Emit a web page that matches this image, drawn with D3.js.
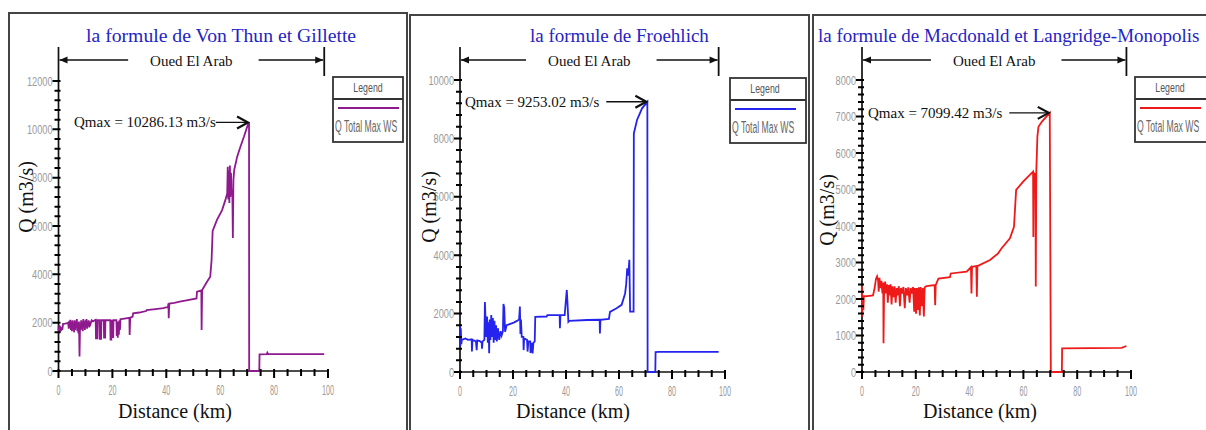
<!DOCTYPE html>
<html>
<head>
<meta charset="utf-8">
<script src="https://cdn.jsdelivr.net/npm/d3@7"></script>
<style>
  html, body { margin: 0; padding: 0; background: #fff; }
  svg { display: block; }
</style>
</head>
<body>
<svg id="chart" width="1206" height="430"></svg>
<script>
// ---- Data: maximum total discharge along Oued El Arab, [distance km, Q m3/s] ----
const formulaTitles = [
  "la formule de Von Thun et Gillette",
  "la formule de Froehlich",
  "la formule de Macdonald et Langridge-Monopolis"
];
const reachName = "Oued El Arab";
const xTitle = "Distance (km)";
const yTitle = "Q (m3/s)";
const legendTitle = "Legend";
const seriesName = "Q Total Max WS";

const xTickValues = [0, 20, 40, 60, 80, 100];
const yTicksVonThun = [0, 2000, 4000, 6000, 8000, 10000, 12000];
const yTicksFroehlich = [0, 2000, 4000, 6000, 8000, 10000];
const yTicksMacdonald = [0, 1000, 2000, 3000, 4000, 5000, 6000, 7000, 8000];

const qmaxVonThun = 10286.13;
const qmaxFroehlich = 9253.02;
const qmaxMacdonald = 7099.42;

const vonThun = [
  [0,1800],[0.15,1550],[0.3,1900],[0.5,1600],[0.7,1850],[0.9,1650],[1.1,1800],[1.4,1700],[1.7,1950],
  [2.5,1960],[3.3,1980],[3.6,2000],[3.8,1750],[4.0,2080],[4.2,1800],[4.4,2120],[4.6,1700],[4.8,2050],
  [5.0,1650],[5.2,2100],[5.4,1750],[5.6,2000],[5.8,1600],[6.0,2100],[6.2,1700],[6.4,2050],[6.6,1800],
  [6.8,2150],[7.0,1650],[7.2,2000],[7.4,1550],[7.6,2050],[7.8,600],[8.0,1950],[8.2,1700],[8.4,2100],
  [8.6,1750],[8.8,2050],[9.0,1650],[9.2,2150],[9.4,1800],[9.6,2050],[9.8,1700],[10.0,2100],[10.2,1850],
  [10.4,2150],[10.6,1750],[10.8,2050],[11.0,1900],[11.2,2100],[11.4,1800],[11.6,2050],[11.9,1950],
  [12.3,2100],[12.8,2050],[13.4,2100],[13.8,2120],[13.9,1350],[14.4,1350],[14.5,2100],[15.2,2100],
  [15.3,1330],[15.8,1330],[15.9,2100],[16.8,2100],[16.9,1380],[17.3,1380],[17.4,2100],[19.2,2100],
  [19.3,1300],[19.6,1300],[19.7,2080],[19.9,2080],[20.0,1400],[20.3,1400],[20.4,2100],[21.5,2100],
  [21.6,1450],[21.8,2000],[22.0,1380],[22.2,2050],[22.4,1500],[22.6,2100],[22.8,1700],[23.0,2150],
  [23.3,2150],[26.3,2200],[26.4,1490],[26.6,2200],[27.5,2250],[27.7,2390],[30,2420],[32.5,2480],
  [32.7,2520],[36,2560],[38.9,2600],[39.5,2620],[40.6,2640],[40.8,2800],[40.9,2180],[41.1,2790],
  [43,2820],[45,2870],[48,2930],[51.2,3000],[51.4,3280],[53.0,3330],[53.1,1700],[53.3,3350],
  [55.1,3690],[56.3,3900],[56.8,4590],[57.2,5800],[58.8,6250],[60.7,6660],[61.9,7070],[62.6,7340],
  [62.8,8450],[63.0,7100],[63.2,8300],[63.4,6950],[63.6,8500],[63.8,7200],[64.0,8200],[64.2,7300],
  [64.5,7500],[64.7,5500],[64.9,7900],[65.2,8320],[66.3,8870],[67.5,9280],[68.8,9690],[70.0,10100],
  [70.7,qmaxVonThun],[70.75,0],[74.5,0],[74.6,690],[77.3,700],[77.5,760],[77.8,700],[98.6,700]
];

const froehlich = [
  [0,1600],[0.1,870],[0.3,1500],[0.5,950],[0.7,1100],[2.0,1150],[3.0,1100],[4.4,1120],[4.5,700],
  [4.7,1100],[6.0,1050],[6.3,750],[6.5,1080],[7.5,1060],[8.2,1000],[8.3,800],[8.5,1050],[9.2,1100],
  [9.4,2400],[9.6,1900],[9.9,1200],[10.2,1900],[10.5,1000],[10.8,1700],[11.0,640],[11.2,1800],
  [11.5,1100],[11.8,1950],[12.1,1200],[12.4,1850],[12.7,1000],[13.0,1750],[13.3,1100],[13.6,1600],
  [13.9,1050],[14.3,1500],[14.8,1100],[15.3,1400],[15.7,1250],[16.2,1400],[16.4,2330],[16.7,2200],
  [17.0,1380],[17.6,1600],[19.0,1650],[20.5,1700],[21.5,1750],[22.3,1800],[22.6,2240],[22.8,1300],
  [23.0,1800],[23.3,1200],[23.9,1200],[24.0,750],[24.2,1150],[25.3,1100],[25.5,700],[25.8,1050],
  [26.5,1050],[26.6,650],[27.0,1000],[27.4,640],[27.7,1000],[28.2,1050],[28.4,1890],[32.7,1900],
  [33.0,1950],[37.6,1950],[37.7,1500],[37.9,1950],[39.5,1950],[40.0,2500],[40.3,2810],[40.6,2300],
  [40.9,1720],[41.2,1750],[48,1780],[52.7,1790],[52.8,1320],[53.0,1790],[56.2,1820],[56.6,2060],
  [59.1,2180],[61,2300],[62.3,2690],[62.7,3000],[63.1,3550],[63.5,3300],[63.9,3840],[64.2,2070],
  [65.5,2070],[65.6,8170],[66.8,8630],[68.7,9030],[70.7,qmaxFroehlich],[70.8,0],[73.7,0],[73.8,680],
  [75,690],[97.6,690]
];

const macdonald = [
  [0,2340],[0.1,1520],[0.3,2100],[0.5,1700],[0.7,2080],[2,2080],[4.1,2100],[4.7,2300],[5.2,2550],
  [5.6,2620],[6.0,2500],[6.2,2200],[6.5,2580],[6.8,2300],[7.2,2500],[7.6,2150],[7.9,2450],[8.0,790],
  [8.2,2100],[8.6,2480],[9.0,2150],[9.3,2400],[9.6,1900],[9.9,2380],[10.3,2100],[10.6,2400],[11.0,1850],
  [11.3,2350],[11.7,2050],[12.1,2350],[12.5,1900],[12.9,2300],[13.3,2100],[13.7,2350],[14.1,1800],
  [14.5,2300],[15.0,2150],[15.4,2330],[15.9,1750],[16.3,2300],[16.8,2100],[17.2,2320],[17.7,1900],
  [18.1,2300],[18.6,2150],[19.0,2330],[19.4,1650],[19.7,2300],[20.1,1600],[20.4,2300],[20.8,1700],
  [21.1,2320],[21.5,1550],[21.8,2330],[22.3,1800],[22.6,2300],[23.0,1520],[23.3,2320],[24.0,2350],
  [27.0,2380],[27.2,1830],[27.4,2380],[28.4,2560],[32.7,2600],[33.0,2700],[38.9,2750],[40.5,2870],
  [40.7,2150],[40.9,2880],[42.5,2900],[42.7,2060],[42.9,2900],[47.6,3070],[50.6,3250],[51.9,3390],
  [55,3660],[56.5,3980],[57.3,4990],[59.9,5215],[63.6,5490],[63.7,3700],[63.9,5450],[64.5,5400],
  [64.6,2340],[64.8,5500],[65.2,6450],[65.6,6720],[66.9,6860],[69.8,qmaxMacdonald],[70.2,0],[74.3,0],
  [74.4,650],[96.5,660],[98.3,712]
];

// ---- Panel settings ----
const panelSpecs = [
  { series: vonThun, qmax: qmaxVonThun, yTicks: yTicksVonThun, yMinor: 400, color: "#8e1a8e",
    frame: { x: 9, y: 13, w: 398 }, plot: { x0: 58.5, x1: 328, y0: 371, y1: 81 },
    titleX: 86, titleSize: 19.7, labelX: 74, legend: { x: 333, y: 77, w: 70, h: 65 },
    qTitle: { x: 33, y: 197 }, dTitleX: 175 },
  { series: froehlich, qmax: qmaxFroehlich, yTicks: yTicksFroehlich, yMinor: 400, color: "#2424ee",
    frame: { x: 410, y: 15, w: 399 }, plot: { x0: 460, x1: 725, y0: 372, y1: 80 },
    titleX: 530, titleSize: 19, labelX: 465, legend: { x: 730, y: 78, w: 76, h: 65 },
    qTitle: { x: 436, y: 207 }, dTitleX: 573 },
  { series: macdonald, qmax: qmaxMacdonald, yTicks: yTicksMacdonald, yMinor: 200, color: "#ee1a1a",
    frame: { x: 813, y: 15, w: 410 }, plot: { x0: 862, x1: 1131, y0: 372, y1: 80 },
    titleX: 818, titleSize: 19, labelX: 868, legend: { x: 1135, y: 77, w: 80, h: 65 },
    qTitle: { x: 834, y: 210 }, dTitleX: 980 }
];

const serif = "'Liberation Serif', 'Times New Roman', serif";
const sans = "'Liberation Sans', Arial, sans-serif";
const ink = "#111";
const tickGrey = "#9a9a9a";
const bracketTop = 47;

const svg = d3.select("#chart");
const tickLayer = [];

panelSpecs.forEach((s, i) => {
  const g = svg.append("g").attr("class", "panel");
  const x = d3.scaleLinear().domain([0, 100]).range([s.plot.x0, s.plot.x1]);
  const y = d3.scaleLinear().domain([0, d3.max(s.yTicks)]).range([s.plot.y0, s.plot.y1]);
  const yMax = d3.max(s.yTicks);

  // frame
  g.append("rect")
    .attr("x", s.frame.x).attr("y", s.frame.y)
    .attr("width", s.frame.w).attr("height", 460)
    .attr("fill", "none").attr("stroke", "#444").attr("stroke-width", 2);

  // title
  g.append("text")
    .attr("x", s.titleX).attr("y", 42)
    .attr("font-family", serif).attr("font-size", s.titleSize)
    .attr("fill", "#2424c4")
    .text(formulaTitles[i]);

  // axis lines (y axis carried up to the reach bracket)
  g.append("line")
    .attr("x1", s.plot.x0).attr("x2", x(100) + 1)
    .attr("y1", s.plot.y0).attr("y2", s.plot.y0)
    .attr("stroke", ink).attr("stroke-width", 1.7);
  g.append("line")
    .attr("x1", s.plot.x0).attr("x2", s.plot.x0)
    .attr("y1", s.plot.y0 + 0.8).attr("y2", bracketTop)
    .attr("stroke", ink).attr("stroke-width", 1.7);

  // tick paths are collected and drawn on top of everything at the end
  const xMinor = d3.range(0, 101, 5);
  tickLayer.push(xMinor.map(d =>
    `M${x(d)},${s.plot.y0 - 2}V${s.plot.y0 + (xTickValues.includes(d) ? 7 : 5)}`).join(""));
  const yMinor = d3.range(0, yMax + 1, s.yMinor);
  tickLayer.push(yMinor.map(d =>
    `M${s.plot.x0 + 2},${y(d)}H${s.plot.x0 - (s.yTicks.includes(d) ? 6 : 4)}`).join(""));

  // tick labels (condensed grey digits)
  g.append("g").selectAll("text").data(xTickValues).join("text")
    .attr("transform", d => `translate(${x(d)},${s.plot.y0 + 24}) scale(0.6,1.2)`)
    .attr("text-anchor", "middle")
    .attr("font-family", sans).attr("font-size", 12).attr("fill", tickGrey)
    .text(d => d);
  g.append("g").selectAll("text").data(s.yTicks).join("text")
    .attr("transform", d => `translate(${s.plot.x0 - 6},${y(d) + 4.5}) scale(0.8,1.15)`)
    .attr("text-anchor", "end")
    .attr("font-family", sans).attr("font-size", 11.5).attr("fill", tickGrey)
    .text(d => d);

  // reach bracket "Oued El Arab"
  const reachEnd = x(s.series[s.series.length - 1][0]);
  const arrowY = 60;
  const midX = (s.plot.x0 + reachEnd) / 2;
  const label = g.append("text")
    .attr("x", midX).attr("y", arrowY + 6)
    .attr("text-anchor", "middle")
    .attr("font-family", serif).attr("font-size", 15).attr("fill", ink)
    .text(reachName);
  const half = label.node().getComputedTextLength() / 2;
  g.append("line")
    .attr("x1", s.plot.x0 + 1).attr("x2", midX - half - 22)
    .attr("y1", arrowY).attr("y2", arrowY)
    .attr("stroke", ink).attr("stroke-width", 1.6);
  g.append("line")
    .attr("x1", midX + half + 26).attr("x2", reachEnd - 1)
    .attr("y1", arrowY).attr("y2", arrowY)
    .attr("stroke", ink).attr("stroke-width", 1.6);
  g.append("path")
    .attr("d", `M${s.plot.x0 + 1},${arrowY} l8,-3.5 l0,7 z`)
    .attr("fill", ink);
  g.append("path")
    .attr("d", `M${reachEnd - 1},${arrowY} l-8,-3.5 l0,7 z`)
    .attr("fill", ink);
  g.append("line")
    .attr("x1", reachEnd).attr("x2", reachEnd)
    .attr("y1", bracketTop).attr("y2", 76)
    .attr("stroke", ink).attr("stroke-width", 1.8);

  // discharge profile
  g.append("path")
    .datum(s.series)
    .attr("fill", "none")
    .attr("stroke", s.color)
    .attr("stroke-width", 1.8)
    .attr("stroke-linejoin", "miter")
    .attr("d", d3.line().x(d => x(d[0])).y(d => y(d[1])));

  // Qmax annotation with arrow to the peak
  const peak = s.series[d3.maxIndex(s.series, d => d[1])];
  const px = x(peak[0]), py = y(s.qmax);
  const qText = g.append("text")
    .attr("x", s.labelX).attr("y", py + 5)
    .attr("font-family", serif).attr("font-size", 15).attr("fill", ink)
    .text(`Qmax = ${d3.format(".2f")(s.qmax)} m3/s`);
  const textEnd = s.labelX + qText.node().getComputedTextLength();
  g.append("line")
    .attr("x1", textEnd + (i === 0 ? 0 : 7)).attr("x2", px - 1)
    .attr("y1", py).attr("y2", py)
    .attr("stroke", ink).attr("stroke-width", 1.4);
  g.append("path")
    .attr("d", `M${px - 12},${py - 6} L${px - 1},${py} L${px - 12},${py + 6}`)
    .attr("fill", "none").attr("stroke", ink).attr("stroke-width", 2.2);

  // legend box
  const L = s.legend;
  const lg = g.append("g");
  lg.append("rect")
    .attr("x", L.x).attr("y", L.y).attr("width", L.w).attr("height", L.h)
    .attr("fill", "#fff").attr("stroke", "#333").attr("stroke-width", 1.8);
  lg.append("line")
    .attr("x1", L.x).attr("x2", L.x + L.w)
    .attr("y1", L.y + 22).attr("y2", L.y + 22)
    .attr("stroke", "#333").attr("stroke-width", 1.8);
  lg.append("text")
    .attr("transform", `translate(${L.x + 35},${L.y + 15}) scale(0.8,1.2)`)
    .attr("text-anchor", "middle")
    .attr("font-family", sans).attr("font-size", 11).attr("fill", "#555")
    .text(legendTitle);
  lg.append("line")
    .attr("x1", L.x + 5).attr("x2", L.x + Math.min(L.w, 70) - 4)
    .attr("y1", L.y + 31).attr("y2", L.y + 31)
    .attr("stroke", s.color).attr("stroke-width", 1.8);
  lg.append("text")
    .attr("transform", `translate(${L.x + 2},${L.y + 55}) scale(0.72,1.3)`)
    .attr("font-family", sans).attr("font-size", 12).attr("fill", "#666")
    .text(seriesName);

  // axis titles
  g.append("text")
    .attr("x", s.dTitleX).attr("y", 418)
    .attr("text-anchor", "middle")
    .attr("font-family", serif).attr("font-size", 20).attr("fill", ink)
    .text(xTitle);
  g.append("text")
    .attr("transform", `translate(${s.qTitle.x},${s.qTitle.y}) rotate(-90)`)
    .attr("text-anchor", "middle")
    .attr("font-family", serif).attr("font-size", 20).attr("fill", ink)
    .text(yTitle);
});

// axis ticks, drawn last on the root
svg.append("path")
  .attr("d", tickLayer.join(""))
  .attr("fill", "none")
  .attr("stroke", "#000")
  .attr("stroke-width", 2);
</script>
</body>
</html>
